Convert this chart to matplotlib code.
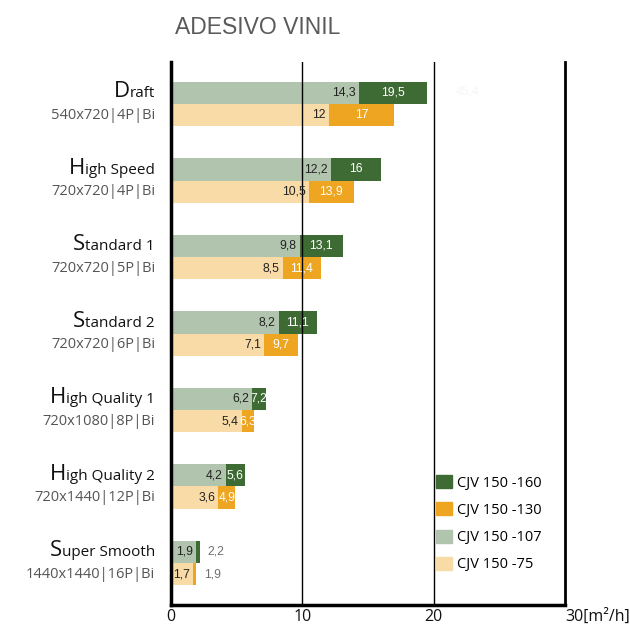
import matplotlib
matplotlib.use("Agg")
import matplotlib.pyplot as plt
from matplotlib.patches import Patch

# print modes and resolutions
modes = ["Draft", "High Speed", "Standard 1", "Standard 2",
         "High Quality 1", "High Quality 2", "Super Smooth"]
specs = ["540x720|4P|Bi", "720x720|4P|Bi", "720x720|5P|Bi", "720x720|6P|Bi",
         "720x1080|8P|Bi", "720x1440|12P|Bi", "1440x1440|16P|Bi"]

# throughput m2/h
cjv160 = [19.5, 16, 13.1, 11.1, 7.2, 5.6, 2.2]
cjv107 = [14.3, 12.2, 9.8, 8.2, 6.2, 4.2, 1.9]
cjv130 = [17, 13.9, 11.4, 9.7, 6.3, 4.9, 1.9]
cjv75 = [12, 10.5, 8.5, 7.1, 5.4, 3.6, 1.7]

xticks = [0, 10, 20, 30]
xticklabels = ["0", "10", "20", "30[m²/h]"]

GREEN_D = "#3e6b34"
GREEN_L = "#b1c5ae"
ORANGE = "#eea522"
PEACH = "#f8dba6"

LABEL_FONT = ["Open Sans", "DejaVu Sans"]
NUM_FONT = ["Liberation Sans", "DejaVu Sans"]


def fmt(v):
    return ("%g" % v).replace(".", ",")


fig = plt.figure(figsize=(6.3, 6.28), dpi=100)
ax = fig.add_axes([171 / 630, 23 / 628, 394 / 630, 543 / 628])

h = 0.29
ys = list(range(len(modes)))
top = [y - h / 2 for y in ys]
bot = [y + h / 2 for y in ys]

ax.barh(top, cjv160, height=h, color=GREEN_D, zorder=1)
ax.barh(top, cjv107, height=h, color=GREEN_L, zorder=2)
ax.barh(bot, cjv130, height=h, color=ORANGE, zorder=1)
ax.barh(bot, cjv75, height=h, color=PEACH, zorder=2)


def label_pair(yy, inner, outer):
    for y, vi, vo in zip(yy, inner, outer):
        ax.text(vi - 0.25, y, fmt(vi), ha="right", va="center", fontsize=8.8,
                color="#222222", family=NUM_FONT, zorder=5)
        if vo - vi >= 0.5:
            ax.text((vi + vo) / 2, y, fmt(vo), ha="center", va="center",
                    fontsize=8.8, color="white", family=NUM_FONT, zorder=5)
        else:
            ax.text(vo + 0.6, y, fmt(vo), ha="left", va="center", fontsize=8.8,
                    color="#707070", family=NUM_FONT, zorder=5)


label_pair(top, cjv107, cjv160)
label_pair(bot, cjv75, cjv130)

# faint leftover label next to Draft
ax.text(21.7, top[0] - 0.02, "45,4", ha="left", va="center", fontsize=8.8,
        color="#f6f6f6", family=NUM_FONT)

ax.set_xlim(0, 30)
ax.set_ylim(len(modes) - 0.45, -0.55)

for x in [10, 20]:
    ax.axvline(x, color="black", lw=1.0, zorder=4)

ax.spines["top"].set_visible(False)
ax.spines["left"].set_linewidth(2.5)
ax.spines["bottom"].set_linewidth(2.5)
ax.spines["right"].set_linewidth(2.0)
for s in ["left", "bottom", "right"]:
    ax.spines[s].set_zorder(6)

ax.set_yticks([])
ax.set_xticks(xticks)
ax.set_xticklabels(xticklabels, family=LABEL_FONT, fontsize=11.5, color="#111111")
ax.tick_params(axis="x", length=0, pad=3)
lbls = ax.get_xticklabels()
lbls[-1].set_ha("left")
lbls[-1].set_x(29.9)

# row labels with enlarged first letter
for y, name, spec in zip(ys, modes, specs):
    rest = ax.annotate(name[1:], xy=(0, y), xycoords=("axes fraction", "data"),
                       xytext=(-11.5, 5), textcoords="offset points",
                       ha="right", va="baseline", fontsize=11,
                       color="#111111", family=LABEL_FONT)
    ax.annotate(name[0], xy=(0, 0), xycoords=rest, xytext=(0, 2.8),
                textcoords="offset points", ha="right", va="baseline",
                fontsize=16, color="#111111", family=LABEL_FONT)
    ax.annotate(spec, xy=(0, y), xycoords=("axes fraction", "data"),
                xytext=(-11.5, -10.5), textcoords="offset points",
                ha="right", va="baseline", fontsize=10.5,
                color="#555555", family=LABEL_FONT)

fig.text(175 / 630, 1 - 27 / 628, "ADESIVO VINIL", ha="left", va="center",
         fontsize=16.5, color="#5a5a5a", family=NUM_FONT)

handles = [Patch(color=GREEN_D), Patch(color=ORANGE),
           Patch(color=GREEN_L), Patch(color=PEACH)]
names = ["CJV 150 -160", "CJV 150 -130", "CJV 150 -107", "CJV 150 -75"]
leg = fig.legend(handles, names, loc="upper left",
                 bbox_to_anchor=(426 / 630, 1 - 465 / 628), frameon=False,
                 handlelength=1.1, handleheight=1.0, handletextpad=0.3,
                 labelspacing=0.8, borderpad=0.2,
                 prop={"family": LABEL_FONT, "size": 10.5})

fig.savefig("out.png", dpi=100)
